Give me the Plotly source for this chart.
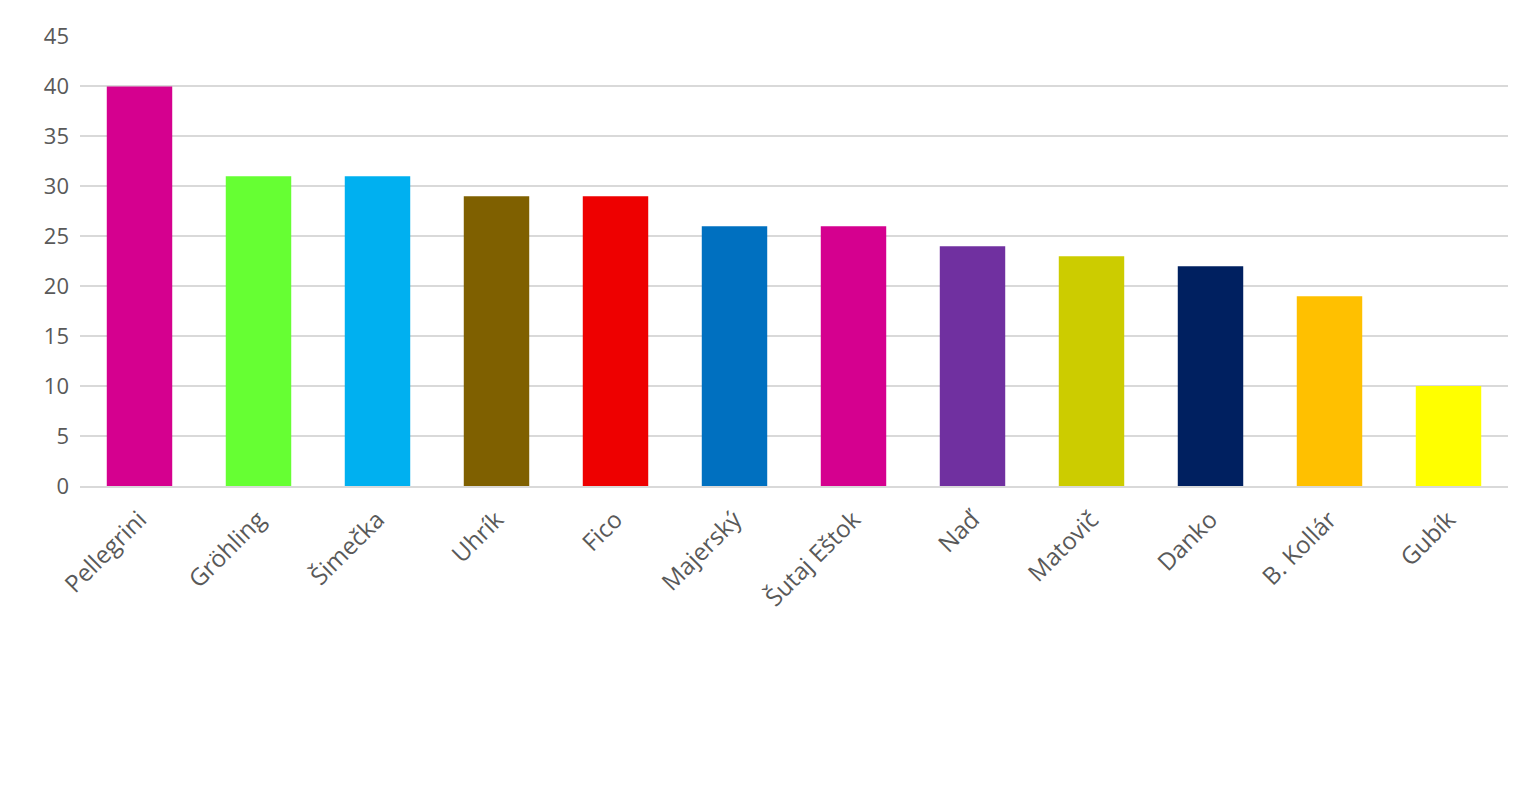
import plotly.graph_objects as go

names = ["Pellegrini","Gröhling","Šimečka","Uhrík","Fico","Majerský","Šutaj Eštok","Naď","Matovič","Danko","B. Kollár","Gubík"]
values = [40,31,31,29,29,26,26,24,23,22,19,10]
colors = ["#D5008F","#66FF33","#00B0F0","#7F6000","#EE0000","#0070C0","#D5008F","#7030A0","#CCCC00","#002060","#FFC000","#FFFF00"]

fig = go.Figure(go.Bar(x=names, y=values, marker_color=colors, marker_line_width=0))
fig.update_layout(
    width=1525, height=801, plot_bgcolor="white", paper_bgcolor="white",
    margin=dict(l=72, r=25, t=16, b=323), bargap=0.45, showlegend=False,
    font=dict(family="Open Sans", size=22, color="#595959"),
)
fig.update_yaxes(range=[0,45.05], dtick=5, gridcolor="#D9D9D9", gridwidth=2, zeroline=False,
                 showline=False, ticks="", ticklabelstandoff=10)
fig.update_xaxes(tickangle=-45, showline=True, linecolor="#D9D9D9", linewidth=2, ticks="",
                 tickfont=dict(size=24), ticklabelstandoff=8)
fig.write_html("out.html")
